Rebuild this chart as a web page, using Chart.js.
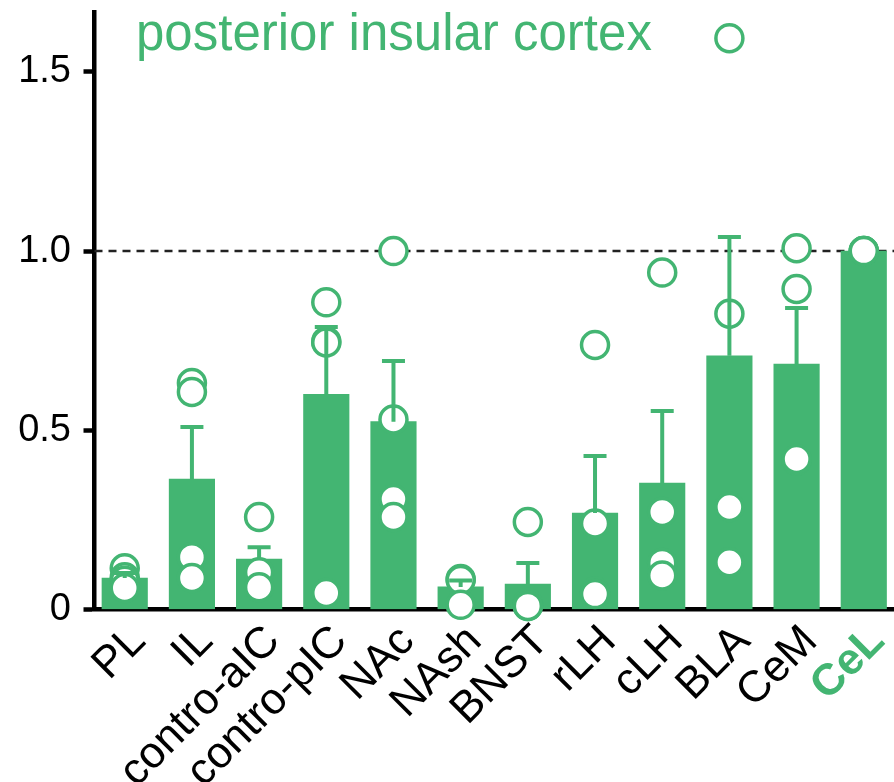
<!DOCTYPE html>
<html>
<head>
<meta charset="utf-8">
<script src="https://cdn.jsdelivr.net/npm/chart.js@4/dist/chart.umd.min.js"></script>
<style>
  html, body { margin: 0; padding: 0; background: #fff; overflow: hidden; }
  #wrap { width: 894px; height: 782px; }
</style>
</head>
<body>
<div id="wrap"><canvas id="chart"></canvas></div>
<script>
// regions and their values (fraction of max)
const categories = ['PL', 'IL', 'contro-aIC', 'contro-pIC', 'NAc', 'NAsh', 'BNST', 'rLH', 'cLH', 'BLA', 'CeM', 'CeL'];
const means = [0.088, 0.364, 0.141, 0.600, 0.524, 0.063, 0.071, 0.269, 0.353, 0.708, 0.685, 1.0];
// top end of the SEM bar for each region
const errTop = [0.102, 0.509, 0.174, 0.788, 0.693, 0.081, 0.130, 0.428, 0.554, 1.039, 0.841, 1.0];
// individual animals
const points = [
    [0.115, 0.09, 0.08, 0.06],
    [0.632, 0.607, 0.146, 0.088],
    [0.258, 0.104, 0.062],
    [0.857, 0.748, 0.745, 0.046],
    [1.0, 0.53, 0.308, 0.258],
    [0.085, 0.082, 0.013],
    [0.244, 0.018, 0.01, 0.01],
    [0.738, 0.24, 0.05, 0.043],
    [0.94, 0.272, 0.13, 0.095],
    [1.594, 0.825, 0.286, 0.132],
    [1.008, 0.894, 0.415, 0.42],
    [1.0, 1.0, 1.0]
];
const yTicks = [0, 0.5, 1.0, 1.5];
const yMax = 1.667;
const xMin = -0.45, xMax = 11.45;
const refLevel = 1.0;
const highlighted = 'CeL';
const titleText = 'posterior insular cortex';

const green = '#43b572';
const fontFamily = "'Liberation Sans', Arial, sans-serif";

// dashed reference line at 1.0, behind the marks
const refLinePlugin = {
    id: 'refLine',
    beforeDatasetsDraw(chart) {
        const { ctx, chartArea, scales } = chart;
        const y = scales.y.getPixelForValue(refLevel);
        ctx.save();
        ctx.strokeStyle = '#222';
        ctx.lineWidth = 2.5;
        ctx.setLineDash([8, 6]);
        ctx.beginPath();
        ctx.moveTo(chartArea.left, y);
        ctx.lineTo(chartArea.right, y);
        ctx.stroke();
        ctx.restore();
    }
};

// upper SEM bars, drawn over bars and points
const errorBarPlugin = {
    id: 'errorBars',
    afterDatasetsDraw(chart) {
        const { ctx, scales } = chart;
        ctx.save();
        ctx.strokeStyle = green;
        ctx.lineWidth = 4;
        errTop.forEach((top, i) => {
            if (top <= means[i]) return;
            const px = scales.x.getPixelForValue(i);
            const y0 = scales.y.getPixelForValue(means[i]);
            const y1 = scales.y.getPixelForValue(top);
            ctx.beginPath();
            ctx.moveTo(px, y0);
            ctx.lineTo(px, y1);
            ctx.moveTo(px - 11.5, y1);
            ctx.lineTo(px + 11.5, y1);
            ctx.stroke();
        });
        ctx.restore();
    }
};

// title sits inside the plot, so draw it by hand
const titlePlugin = {
    id: 'insideTitle',
    afterDraw(chart) {
        const { ctx } = chart;
        ctx.save();
        ctx.fillStyle = green;
        ctx.font = '51px ' + fontFamily;
        ctx.textBaseline = 'alphabetic';
        ctx.fillText(titleText, 136, 50);
        ctx.restore();
    }
};

const barData = means.map((v, i) => ({ x: i, y: v }));
const pointData = [];
points.forEach((arr, i) => arr.forEach(v => pointData.push({ x: i, y: v })));

new Chart(document.getElementById('chart'), {
    type: 'bar',
    data: {
        datasets: [
            {
                type: 'bar',
                data: barData,
                backgroundColor: green,
                borderWidth: 0,
                barThickness: 45.5,
                order: 2
            },
            {
                type: 'scatter',
                data: pointData,
                pointRadius: 13.5,
                pointBorderWidth: 3.5,
                pointBackgroundColor: '#fff',
                pointBorderColor: green,
                clip: false,
                order: 1
            }
        ]
    },
    options: {
        responsive: true,
        maintainAspectRatio: false,
        animation: false,
        // big markers would otherwise pad the plot on every side
        layout: { autoPadding: false, padding: { top: 12, left: 0, right: 0, bottom: 0 } },
        plugins: {
            legend: { display: false },
            tooltip: { enabled: false },
            title: { display: false }
        },
        scales: {
            x: {
                type: 'linear',
                min: xMin,
                max: xMax,
                offset: false,
                z: 1,
                grid: { display: false, drawTicks: false, offset: false },
                border: { display: true, color: '#000', width: 4.5 },
                afterBuildTicks(scale) {
                    scale.ticks = categories.map((c, i) => ({ value: i }));
                },
                afterFit(scale) {
                    scale.height = 172.5;
                    scale.paddingLeft = 0;
                    scale.paddingRight = 0;
                },
                ticks: {
                    autoSkip: false,
                    minRotation: 45,
                    maxRotation: 45,
                    padding: 6,
                    labelOffset: 14,
                    callback: value => categories[value] ?? '',
                    color: ctx => (categories[ctx.index] === highlighted ? green : '#000'),
                    font: ctx => ({
                        family: fontFamily,
                        size: 44,
                        weight: categories[ctx.index] === highlighted ? 'bold' : 'normal'
                    })
                }
            },
            y: {
                min: 0,
                max: yMax,
                grid: {
                    drawOnChartArea: false,
                    drawTicks: true,
                    tickLength: 11,
                    tickWidth: 4.5,
                    tickColor: '#000'
                },
                border: { display: true, color: '#000', width: 4.5 },
                afterBuildTicks(scale) {
                    scale.ticks = yTicks.map(v => ({ value: v }));
                },
                afterFit(scale) {
                    scale.width = 94.5;
                    scale.paddingTop = 0;
                    scale.paddingBottom = 0;
                },
                ticks: {
                    padding: 12.5,
                    color: '#000',
                    font: { family: fontFamily, size: 38 },
                    callback: v => (v === 0 ? '0' : v.toFixed(1))
                }
            }
        }
    },
    plugins: [refLinePlugin, errorBarPlugin, titlePlugin]
});
</script>
</body>
</html>
